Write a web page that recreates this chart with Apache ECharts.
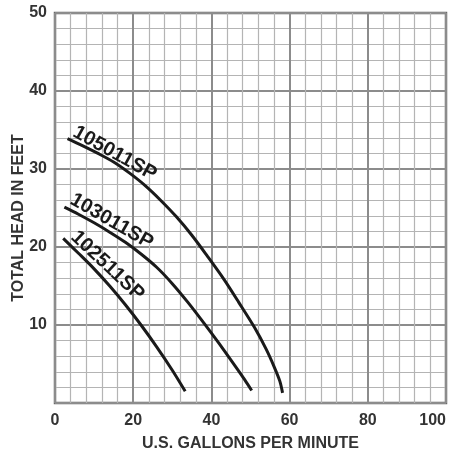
<!DOCTYPE html>
<html><head><meta charset="utf-8">
<script src="https://cdn.jsdelivr.net/npm/echarts@6/dist/echarts.min.js"></script>
<style>html,body{margin:0;padding:0;background:#fff}#c{width:451px;height:450px}</style>
</head><body><div id="c"></div>
<script>
const xTicks = [0, 20, 40, 60, 80, 100];
const yTicks = [10, 20, 30, 40, 50];
const pump105011 = [[3.2,33.9],[7,33.0],[11,32.0],[15,30.9],[19,29.5],[23,27.9],[27,26.0],[31,23.9],[35,21.5],[39,18.8],[43,16.0],[47,12.9],[51,9.7],[54,6.9],[56,4.7],[57.5,2.8],[58.2,1.3]];
const pump103011 = [[2.4,25.1],[6,24.2],[10,23.1],[14,21.9],[18,20.6],[22,19.1],[26,17.4],[30,15.3],[34,12.9],[38,10.3],[42,7.6],[46,4.8],[48.5,3.0],[50.3,1.6]];
const pump102511 = [[2.1,21.1],[6,19.2],[10,17.2],[14,15.0],[18,12.6],[22,10.0],[26,7.2],[30,4.2],[33.3,1.5]];
const seriesNames = ['105011SP','103011SP','102511SP'];
const labelAnchors = [[15.3,32.0],[14.5,23.3],[13.4,17.6]];
const labelAngles = [-29,-30,-43];

const chart = echarts.init(document.getElementById('c'), null, {renderer:'canvas'});
const dataSets = [pump105011, pump103011, pump102511];
const FONT = 'Liberation Sans, Arial, sans-serif';
const series = dataSets.map((d,i)=>({
  type:'line', name:seriesNames[i], data:d, smooth:0.3, symbol:'none',
  lineStyle:{color:'#1a1a1a', width:3},
  markPoint:{
    symbol:'circle', symbolSize:0,
    data:[{coord:labelAnchors[i]}],
    label:{show:true, formatter:seriesNames[i], rotate:labelAngles[i], position:'inside',
      color:'#1a1a1a', fontFamily:FONT, fontWeight:'bold', fontSize:20}
  }
}));
chart.setOption({
  animation:false,
  backgroundColor:'#fff',
  grid:{left:55, right:5, top:13, bottom:47, containLabel:false, outerBoundsMode:'none',
    show:true, borderColor:'#6a6a6a', borderWidth:2.5, backgroundColor:'transparent'},
  xAxis:{type:'value', min:0, max:100, interval:20,
    name:'U.S. GALLONS PER MINUTE', nameLocation:'middle', nameGap:33, nameMoveOverlap:false,
    nameTextStyle:{color:'#333', fontFamily:FONT, fontWeight:'bold', fontSize:16},
    axisLine:{show:false}, axisTick:{show:false},
    axisLabel:{color:'#333', fontFamily:FONT, fontWeight:'bold', fontSize:16, margin:10, alignMaxLabel:'right',
      formatter:v=>xTicks.includes(v)?String(v):''},
    splitLine:{show:true, lineStyle:{color:'#8c8c8c', width:2}},
    minorTick:{show:false, splitNumber:5},
    minorSplitLine:{show:true, lineStyle:{color:'#b4b4b4', width:1.2}}
  },
  yAxis:{type:'value', min:0, max:50, interval:10,
    name:'TOTAL HEAD IN FEET', nameLocation:'middle', nameGap:28, nameRotate:90, nameMoveOverlap:false,
    nameTextStyle:{color:'#333', fontFamily:FONT, fontWeight:'bold', fontSize:16, padding:[0,20,0,0]},
    axisLine:{show:false}, axisTick:{show:false},
    axisLabel:{color:'#333', fontFamily:FONT, fontWeight:'bold', fontSize:16, margin:8,
      formatter:v=>yTicks.includes(v)?String(v):''},
    splitLine:{show:true, lineStyle:{color:'#8c8c8c', width:2}},
    minorTick:{show:false, splitNumber:5},
    minorSplitLine:{show:true, lineStyle:{color:'#b4b4b4', width:1.2}}
  },
  series: series
});
</script></body></html>
